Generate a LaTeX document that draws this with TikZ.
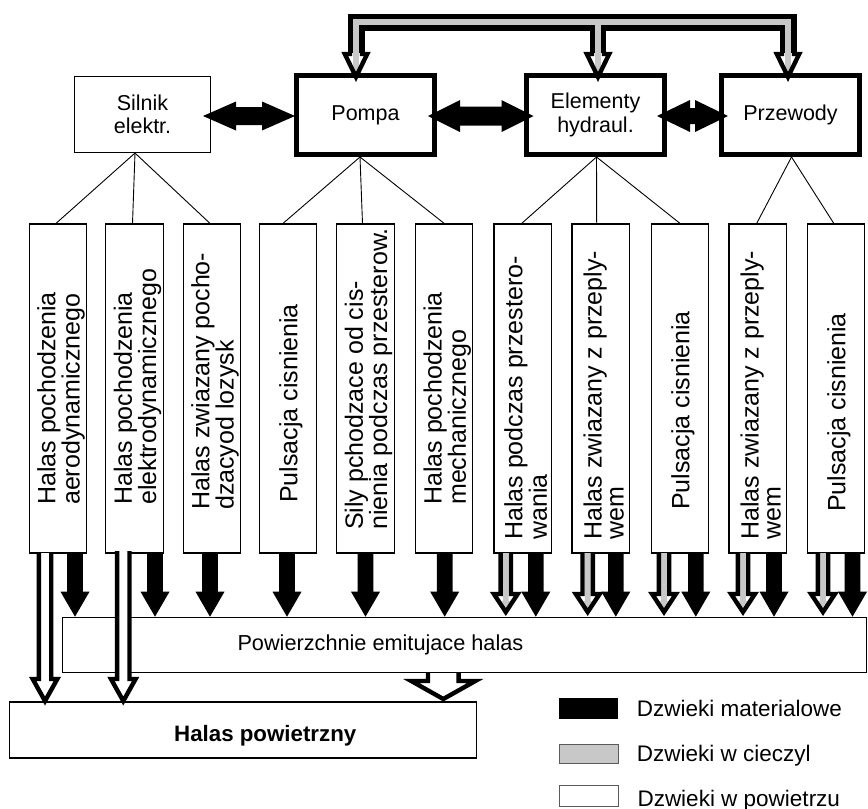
\documentclass[tikz,border=0pt]{standalone}
\usepackage{fontspec}
\setmainfont{Liberation Sans}
\usetikzlibrary{calc}
\definecolor{lgray}{RGB}{200,200,200}
\definecolor{bgray}{RGB}{90,90,90}
\newcommand\topfont{\fontsize{21.5}{23.5}\selectfont}
\newcommand\vertfont{\fontsize{25}{22}\selectfont}
\newcommand\midfont{\fontsize{21.7}{24}\selectfont}
\newcommand\legfont{\fontsize{22.5}{25}\selectfont}
\newcommand\botfont{\fontsize{22.3}{25}\selectfont\bfseries}
% material (black) block arrow: x, ytop, ybase, ytip
\newcommand\matarr[4]{%
  \fill[black] (#1-7.8,#2) -- (#1-7.8,#3) -- (#1-14.5,#3) -- (#1,#4) -- (#1+14.5,#3) -- (#1+7.8,#3) -- (#1+7.8,#2) -- cycle;}
% hollow block arrow: x, ytop, ybase, ytip, shaft half, head half, inner colour
\newcommand\hollowarr[7]{%
  \fill[white] (#1-#5,#2) -- (#1-#5,#3) -- (#1-#6,#3) -- (#1,#4) -- (#1+#6,#3) -- (#1+#5,#3) -- (#1+#5,#2) -- cycle;
  \fill[#7] (#1-2.9,#2) -- (#1-2.9,#4-11) -- (#1-4.3,#4-11) -- (#1,#4-4.5) -- (#1+4.3,#4-11) -- (#1+2.9,#4-11) -- (#1+2.9,#2) -- cycle;
  \draw[line width=4.4, line join=miter] (#1-#5,#2) -- (#1-#5,#3) -- (#1-#6,#3) -- (#1,#4) -- (#1+#6,#3) -- (#1+#5,#3) -- (#1+#5,#2);}
% horizontal double black arrow: xL, xR, y, head length, head half, shaft half
\newcommand\dblarr[6]{%
  \fill[black] (#1,#3) -- (#1+#4,#3-#5) -- (#1+#4,#3-#6) -- (#2-#4,#3-#6) -- (#2-#4,#3-#5) -- (#2,#3) -- (#2-#4,#3+#5) -- (#2-#4,#3+#6) -- (#1+#4,#3+#6) -- (#1+#4,#3+#5) -- cycle;}
\tikzset{
  thinbox/.style={draw, line width=1.1, inner sep=0, align=center, font=\topfont},
  thickbox/.style={draw, line width=5, inner sep=0, align=center, font=\topfont, minimum width=138, minimum height=79},
  vbox/.style={draw, line width=1.2, inner sep=0, minimum width=57.3, minimum height=329},
  vtext/.style={rotate=90, anchor=west, align=left, inner sep=0, font=\vertfont},
  wire/.style={line width=0.9},
}
\begin{document}
\begin{tikzpicture}[x=1pt, y=-1pt]
\useasboundingbox (0,0) rectangle (868,809);
% top components
\node[thinbox, minimum width=136, minimum height=76] (silnik) at (142.5,114.5) {Silnik\\elektr.};
\node[thickbox] (pompa) at (365.5,115) {Pompa};
\node[thickbox] (elem) at (595.5,115) {Elementy\\hydraul.};
\node[thickbox] (przew) at (790.5,115) {Przewody};
% vertical boxes
\foreach \i/\x in {1/58,2/134.5,3/212,4/288,5/365.5,6/444.2,7/522.7,8/600.7,9/680,10/757.7,11/835.8}{
  \node[vbox] (v\i) at (\x,388.5) {};
}
\node[vtext] (t1) at (61,505) {Halas pochodzenia\\aerodynamicznego};
\node[vtext] (t2) at (137.5,505) {Halas pochodzenia\\elektrodynamicznego};
\node[vtext] (t3) at (215,510) {Halas zwiazany pocho-\\dzacyod lozysk};
\node[vtext] (t4) at (291,503) {Pulsacja cisnienia};
\node[vtext] (t5) at (368.5,530) {Sily pchodzace od cis-\\nienia podczas przesterow.};
\node[vtext] (t6) at (447.2,505) {Halas pochodzenia\\mechanicznego};
\node[vtext] (t7) at (525.7,540) {Halas podczas przestero-\\wania};
\node[vtext] (t8) at (603.7,540) {Halas zwiazany z przeply-\\wem};
\node[vtext] (t9) at (683,510) {Pulsacja cisnienia};
\node[vtext] (t10) at (760.7,540) {Halas zwiazany z przeply-\\wem};
\node[vtext] (t11) at (838.8,512) {Pulsacja cisnienia};
% wires
\coordinate (aS) at ($(silnik.south)+(-7.5,0)$);
\coordinate (aP) at ($(pompa.south)+(-5.5,0)$);
\coordinate (aE) at ($(elem.south)+(1,0)$);
\coordinate (aR) at ($(przew.south)+(1,0)$);
\draw[wire] (aS) -- ($(v1.north)+(-2,0)$);
\draw[wire] (aS) -- ($(v2.north)+(-2,0)$);
\draw[wire] (aS) -- ($(v3.north)+(-2,0)$);
\draw[wire] (aP) -- ($(v4.north)+(-5,0)$);
\draw[wire] (aP) -- ($(v5.north)+(-3,0)$);
\draw[wire] (aP) -- (v6.north);
\draw[wire] (aE) -- ($(v7.north)+(-1,0)$);
\draw[wire] (aE) -- ($(v8.north)+(-4,0)$);
\draw[wire] (aE) -- (v9.north);
\draw[wire] (aR) -- ($(v10.north)+(-1,0)$);
\draw[wire] (aR) -- ($(v11.north)+(-2,0)$);
% lower boxes
\node[draw, line width=1.1, minimum width=804, minimum height=55, inner sep=0] (pow) at (464.4,644.7) {};
\node[font=\midfont, anchor=base west, inner sep=0] (powt) at (237.3,650) {Powierzchnie emitujace halas};
\node[draw, line width=1.1, minimum width=467, minimum height=56, inner sep=0] (hp) at (243.3,730) {};
\node[font=\botfont, anchor=base west, inner sep=0] (hpt) at (174,741.7) {Halas powietrzny};
% top fluid connector
\coordinate (cP) at (356,53);
\coordinate (cE) at (598,53);
\coordinate (cR) at (788,53);
\draw[line width=17] (cP) -- (356,22) -- (788,22) -- (cR);
\draw[line width=16] (598,22) -- (cE);
\draw[lgray, line width=5.5] (cP) -- (356,22) -- (788,22) -- (cR);
\draw[lgray, line width=5.5] (598,22) -- (cE);
\hollowarr{356}{53}{54}{77}{6}{11.2}{lgray}
\hollowarr{598}{53}{54}{77}{6}{11.2}{lgray}
\hollowarr{788}{53}{54}{77}{6}{11.2}{lgray}
% horizontal double arrows
\dblarr{203}{295}{116}{33}{14.5}{9}
\dblarr{428}{533.5}{116}{32}{16}{9.5}
\dblarr{657}{728}{116}{33}{16}{8}
% downward arrows
\hollowarr{45}{553}{679}{701}{6.2}{12.3}{white}
\hollowarr{123.3}{551}{679}{701}{6.2}{12.3}{white}
\matarr{75}{553}{591.7}{616.7}
\matarr{155}{553}{591.7}{616.7}
\matarr{210}{553}{591.7}{616.7}
\matarr{287}{553}{591.7}{616.7}
\matarr{365.5}{553}{591.7}{616.7}
\matarr{444.7}{553}{591.7}{616.7}
\foreach \g/\m in {505.8/535.8, 587.7/615.8, 664/695.8, 743/774, 823/852.5}{
  \hollowarr{\g}{553}{594}{612}{5.2}{11.9}{lgray}
  \matarr{\m}{553}{591.7}{616.7}
}
\hollowarr{443.3}{673}{681}{699}{15.3}{32}{white}
% legend
\fill[black] (559.3,698.3) rectangle (618.3,719.3);
\draw[bgray, line width=1, fill=lgray] (559.3,744.3) rectangle (618.3,763.3);
\draw[bgray, line width=1] (559.3,785.7) rectangle (618.3,806.7);
\node[font=\legfont, anchor=base west, inner sep=0] (l1) at (636.7,716) {Dzwieki materialowe};
\node[font=\legfont, anchor=base west, inner sep=0] (l2) at (636.7,761.5) {Dzwieki w cieczyl};
\node[font=\legfont, anchor=base west, inner sep=0] (l3) at (637.3,806) {Dzwieki w powietrzu};
\end{tikzpicture}
\end{document}
